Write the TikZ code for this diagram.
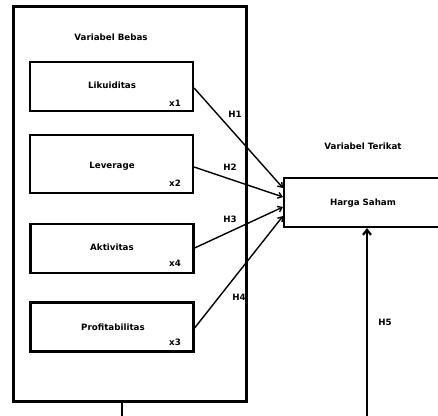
\documentclass[tikz,border=0pt]{standalone}
\usepackage{fontspec}
\setmainfont{DejaVu Sans}
\usetikzlibrary{arrows.meta}
\begin{document}
\begin{tikzpicture}[x=1pt,y=-1pt,
  lbl/.style={font=\bfseries\fontsize{8.7}{10}\selectfont, inner sep=0pt},
  varbox/.style={draw, line width=2.2pt, minimum width=163pt, minimum height=49pt, inner sep=0pt},
  conn/.style={line width=1.4pt, -{Straight Barb[length=4pt,width=6pt]}},
]
\useasboundingbox (0,0) rectangle (438,415);
\clip (0,0) rectangle (438,415);
% outer box
\node[draw, line width=3pt, minimum width=233pt, minimum height=395pt, inner sep=0pt] (outer) at (129.5,203.5) {};
\node[lbl] (vb) at (111,37) {Variabel Bebas};
\node[varbox] (x1) at (111.5,86.5) {};
\node[varbox, minimum height=58pt] (x2) at (111.5,164) {};
\node[varbox] (x4) at (112,248.5) {};
\node[varbox] (x3) at (112,327) {};
\node[lbl] (t1) at (112,85) {Likuiditas};
\node[lbl] (l1) at (175,103) {x1};
\node[lbl] (t2) at (112,166) {Leverage};
\node[lbl] (l2) at (175,183) {x2};
\node[lbl] (t4) at (112,247) {Aktivitas};
\node[lbl] (l4) at (175,263) {x4};
\node[lbl] (t3) at (113,327) {Profitabilitas};
\node[lbl] (l3) at (175,342) {x3};
% dependent
\node[draw, line width=2.2pt, minimum width=170pt, minimum height=49pt, inner sep=0pt, anchor=west] (hs) at (283,202.5) {};
\node[lbl] (hst) at (363,203) {Harga Saham};
\node[lbl] (vt) at (363,146) {Variabel Terikat};
% connectors
\coordinate (e1) at (283,188);
\coordinate (e2) at (283,197);
\coordinate (e3) at (283,207);
\coordinate (e4) at (283,216);
\draw[conn] (x1.east |- 0,88) -- (e1);
\draw[conn] (x2.east |- 0,167) -- (e2);
\draw[conn] (x4.east |- 0,248) -- (e3);
\draw[conn] (x3.east |- 0,328) -- (e4);
\node[lbl] (h1) at (235,114) {H1};
\node[lbl] (h2) at (230,167) {H2};
\node[lbl] (h3) at (230,219) {H3};
\node[lbl] (h4) at (239,297) {H4};
\node[lbl] (h5) at (385,322) {H5};
% bottom
\coordinate (b1) at (122,420);
\coordinate (b2) at (367,420);
\draw[line width=2.2pt] (outer.south -| b1) -- (b1);
\draw[line width=2.2pt, -{Straight Barb[length=5pt,width=8pt]}] (b2) -- (hs.south -| b2);
\end{tikzpicture}
\end{document}
